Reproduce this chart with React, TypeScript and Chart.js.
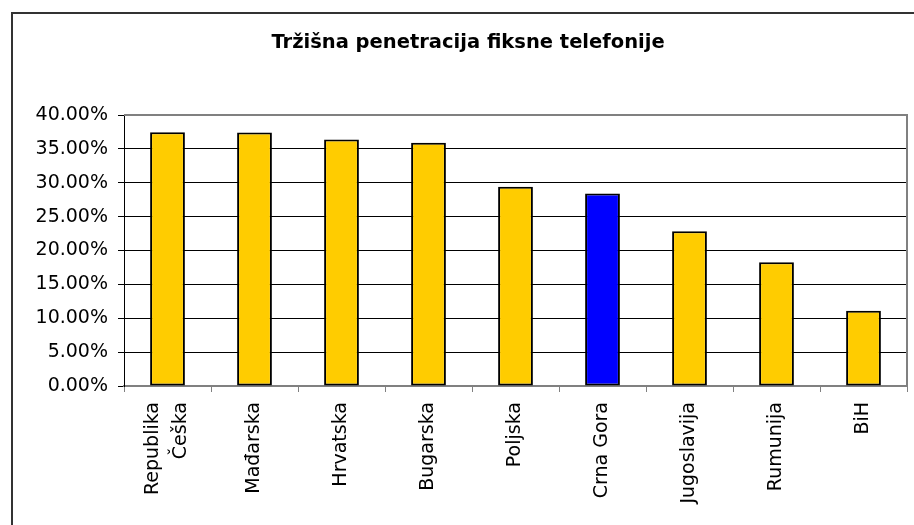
import React, { useEffect, useRef } from "react";
import { Chart, registerables } from "chart.js";

Chart.register(...registerables);

const TITLE = "Tržišna penetracija fiksne telefonije";
const categories: (string | string[])[] = [
  ["Republika", "Češka"],
  "Mađarska",
  "Hrvatska",
  "Bugarska",
  "Poljska",
  "Crna Gora",
  "Jugoslavija",
  "Rumunija",
  "BiH",
];
const penetration = [37.45, 37.4, 36.4, 35.9, 29.4, 28.4, 22.85, 18.25, 11.1];
const barColors = [
  "#FFCC00",
  "#FFCC00",
  "#FFCC00",
  "#FFCC00",
  "#FFCC00",
  "#0000FF",
  "#FFCC00",
  "#FFCC00",
  "#FFCC00",
];
const yMin = 0;
const yMax = 40;
const yStep = 5;

const FONT = "'DejaVu Sans', sans-serif";

const plotFrame = {
  id: "plotFrame",
  afterDraw(chart: any) {
    const { ctx, chartArea } = chart;
    ctx.save();
    ctx.strokeStyle = "#808080";
    ctx.lineWidth = 2;
    ctx.beginPath();
    ctx.moveTo(chartArea.left, chartArea.top);
    ctx.lineTo(chartArea.right, chartArea.top);
    ctx.lineTo(chartArea.right, chartArea.bottom);
    ctx.stroke();
    ctx.restore();
  },
};

// draws the rotated category labels, multi-line ones centred on their category
const xLabels = {
  id: "xLabels",
  afterDraw(chart: any) {
    const { ctx } = chart;
    const xs = chart.scales.x;
    const labels = chart.data.labels as (string | string[])[];
    const pitch = 28;
    const top = xs.top + 16;
    ctx.save();
    ctx.fillStyle = "#000";
    ctx.font = `19px ${FONT}`;
    ctx.textAlign = "right";
    ctx.textBaseline = "middle";
    labels.forEach((lab, i) => {
      const lines = Array.isArray(lab) ? lab : [lab];
      const px = xs.getPixelForTick(i);
      lines.forEach((line, j) => {
        const cx = px + (j - (lines.length - 1) / 2) * pitch;
        ctx.save();
        ctx.translate(cx, top);
        ctx.rotate(-Math.PI / 2);
        ctx.fillText(line, 0, 0);
        ctx.restore();
      });
    });
    ctx.restore();
  },
};

export default function App() {
  const ref = useRef<HTMLCanvasElement | null>(null);
  useEffect(() => {
    if (!ref.current) return;
    const chart = new Chart(ref.current, {
      type: "bar",
      data: {
        labels: categories,
        datasets: [
          {
            data: penetration,
            backgroundColor: barColors,
            borderColor: "#000000",
            borderWidth: 2,
            borderSkipped: false,
            barPercentage: 0.4,
            categoryPercentage: 1,
          },
        ],
      },
      options: {
        animation: false,
        responsive: false,
        maintainAspectRatio: false,
        layout: { padding: { left: 29, right: 7, top: 31, bottom: 0 } },
        plugins: {
          legend: { display: false },
          tooltip: { enabled: false },
          title: {
            display: true,
            text: TITLE,
            color: "#000",
            font: { family: FONT, size: 19.5, weight: "bold", lineHeight: 1.2 },
            padding: { top: 0, bottom: 60.6 },
          },
        },
        scales: {
          x: {
            afterFit(scale: any) {
              scale.height = 139;
            },
            grid: {
              drawOnChartArea: false,
              drawTicks: true,
              tickLength: 6,
              color: "#808080",
              offset: true,
            },
            border: { color: "#808080", width: 2 },
            ticks: {
              display: false,
              autoSkip: false,
            },
          },
          y: {
            min: yMin,
            max: yMax,
            afterFit(scale: any) {
              scale.width = 95;
            },
            grid: { color: "#000", lineWidth: 1, tickLength: 6 },
            border: { color: "#000", width: 1 },
            ticks: {
              stepSize: yStep,
              padding: 10,
              color: "#000",
              font: { family: FONT, size: 19 },
              callback: (v: any) => Number(v).toFixed(2) + "%",
            },
          },
        },
      },
      plugins: [plotFrame, xLabels],
    });
    return () => chart.destroy();
  }, []);

  return (
    <div style={{ position: "fixed", left: 0, top: 0, width: 914, height: 525, overflow: "hidden", background: "#fff" }}>
      <div
        style={{
          position: "absolute",
          left: 11,
          top: 12,
          width: 1000,
          height: 1000,
          borderTop: "2px solid #333",
          borderLeft: "2px solid #333",
        }}
      />
      <canvas ref={ref} width={914} height={525} style={{ position: "absolute", left: 0, top: 0 }} />
    </div>
  );
}
